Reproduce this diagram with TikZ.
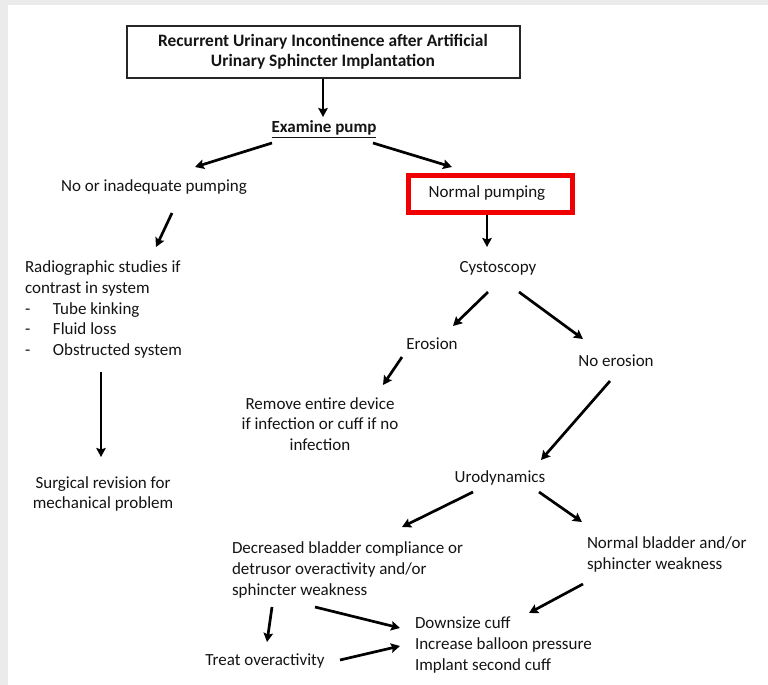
\documentclass[tikz,border=0pt]{standalone}
\usepackage{fontspec}
\setmainfont{Carlito}
\usetikzlibrary{arrows.meta}
\definecolor{bordergray}{HTML}{EBEBEB}
\definecolor{txt}{HTML}{141414}
\definecolor{boxred}{HTML}{F00000}
\begin{document}
\begin{tikzpicture}[x=1pt,y=-1pt,
  every node/.style={text=txt,inner sep=0pt,outer sep=0pt},
  lbl/.style={font=\fontsize{17}{20.7}\selectfont},
  ttl/.style={font=\fontsize{17.4}{20}\selectfont\bfseries},
  arr/.style={line width=2.7pt,-{Stealth[length=9pt,width=9.5pt,inset=1.5pt]},draw=black}]
\fill[bordergray] (0,0) rectangle (768,685);
\fill[white] (8,5) rectangle (768,685);
\useasboundingbox (0,0) rectangle (768,685);

% title
\draw[line width=1.2pt,draw=black!85] (127,26) rectangle (520,78);
\node[ttl,align=center] (title) at (323,52) {Recurrent Urinary Incontinence after Artificial\\Urinary Sphincter Implantation};

\node[font=\fontsize{17}{20.5}\selectfont\bfseries] (exam) at (324,129) {\underline{Examine pump}};
\node[lbl] (nip) at (154,187) {No or inadequate pumping};

\draw[line width=5pt,draw=boxred] (408,175) rectangle (572,212);
\node[lbl] (normal) at (487,193) {Normal pumping};

\node[lbl] (cysto) at (498,268) {Cystoscopy};
\node[lbl] (erosion) at (432,344) {Erosion};
\node[lbl] (noerosion) at (616,361) {No erosion};
\node[lbl,align=center] (remove) at (320,424) {Remove entire device\\if infection or cuff if no\\infection};

\node[lbl,align=left,anchor=north west] (radio) at (25,261) {Radiographic studies if\\contrast in system\\\makebox[28pt][l]{-}Tube kinking\\\makebox[28pt][l]{-}Fluid loss\\\makebox[28pt][l]{-}Obstructed system};

\node[lbl,align=center] (surg) at (103,494) {Surgical revision for\\mechanical problem};

\node[lbl] (uro) at (500,478) {Urodynamics};
\node[lbl,align=left,anchor=north west] (decr) at (232,542) {Decreased bladder compliance or\\detrusor overactivity and/or\\sphincter weakness};
\node[lbl,align=left,anchor=north west] (normb) at (587,537) {Normal bladder and/or\\sphincter weakness};
\node[lbl,align=left,anchor=north west] (down) at (415,617) {Downsize cuff\\Increase balloon pressure\\Implant second cuff};
\node[lbl] (treat) at (265,661) {Treat overactivity};

% arrow end points
\coordinate (a1s) at (323,79);  \coordinate (a1e) at (323,117);
\coordinate (a2s) at (272,143); \coordinate (a2e) at (195,167);
\coordinate (a3s) at (373,143); \coordinate (a3e) at (452,167);
\coordinate (a4s) at (172,213); \coordinate (a4e) at (156,247);
\coordinate (a5s) at (101,372); \coordinate (a5e) at (101,457);
\coordinate (a6s) at (487,215); \coordinate (a6e) at (487,247);
\coordinate (a7s) at (488,292); \coordinate (a7e) at (453,326);
\coordinate (a8s) at (519,292); \coordinate (a8e) at (583,339);
\coordinate (a9s) at (402,357); \coordinate (a9e) at (383,385);
\coordinate (a10s) at (610,381); \coordinate (a10e) at (541,460);
\coordinate (a11s) at (473,492); \coordinate (a11e) at (402,527);
\coordinate (a12s) at (539,492); \coordinate (a12e) at (582,522);
\coordinate (a13s) at (583,584); \coordinate (a13e) at (529,613);
\coordinate (a14s) at (315,607); \coordinate (a14e) at (400,628);
\coordinate (a15s) at (272,607); \coordinate (a15e) at (267,642);
\coordinate (a16s) at (340,660); \coordinate (a16e) at (400,646);

\foreach \i in {1,...,16} {\draw[arr] (a\i s) -- (a\i e);}
\end{tikzpicture}
\end{document}
